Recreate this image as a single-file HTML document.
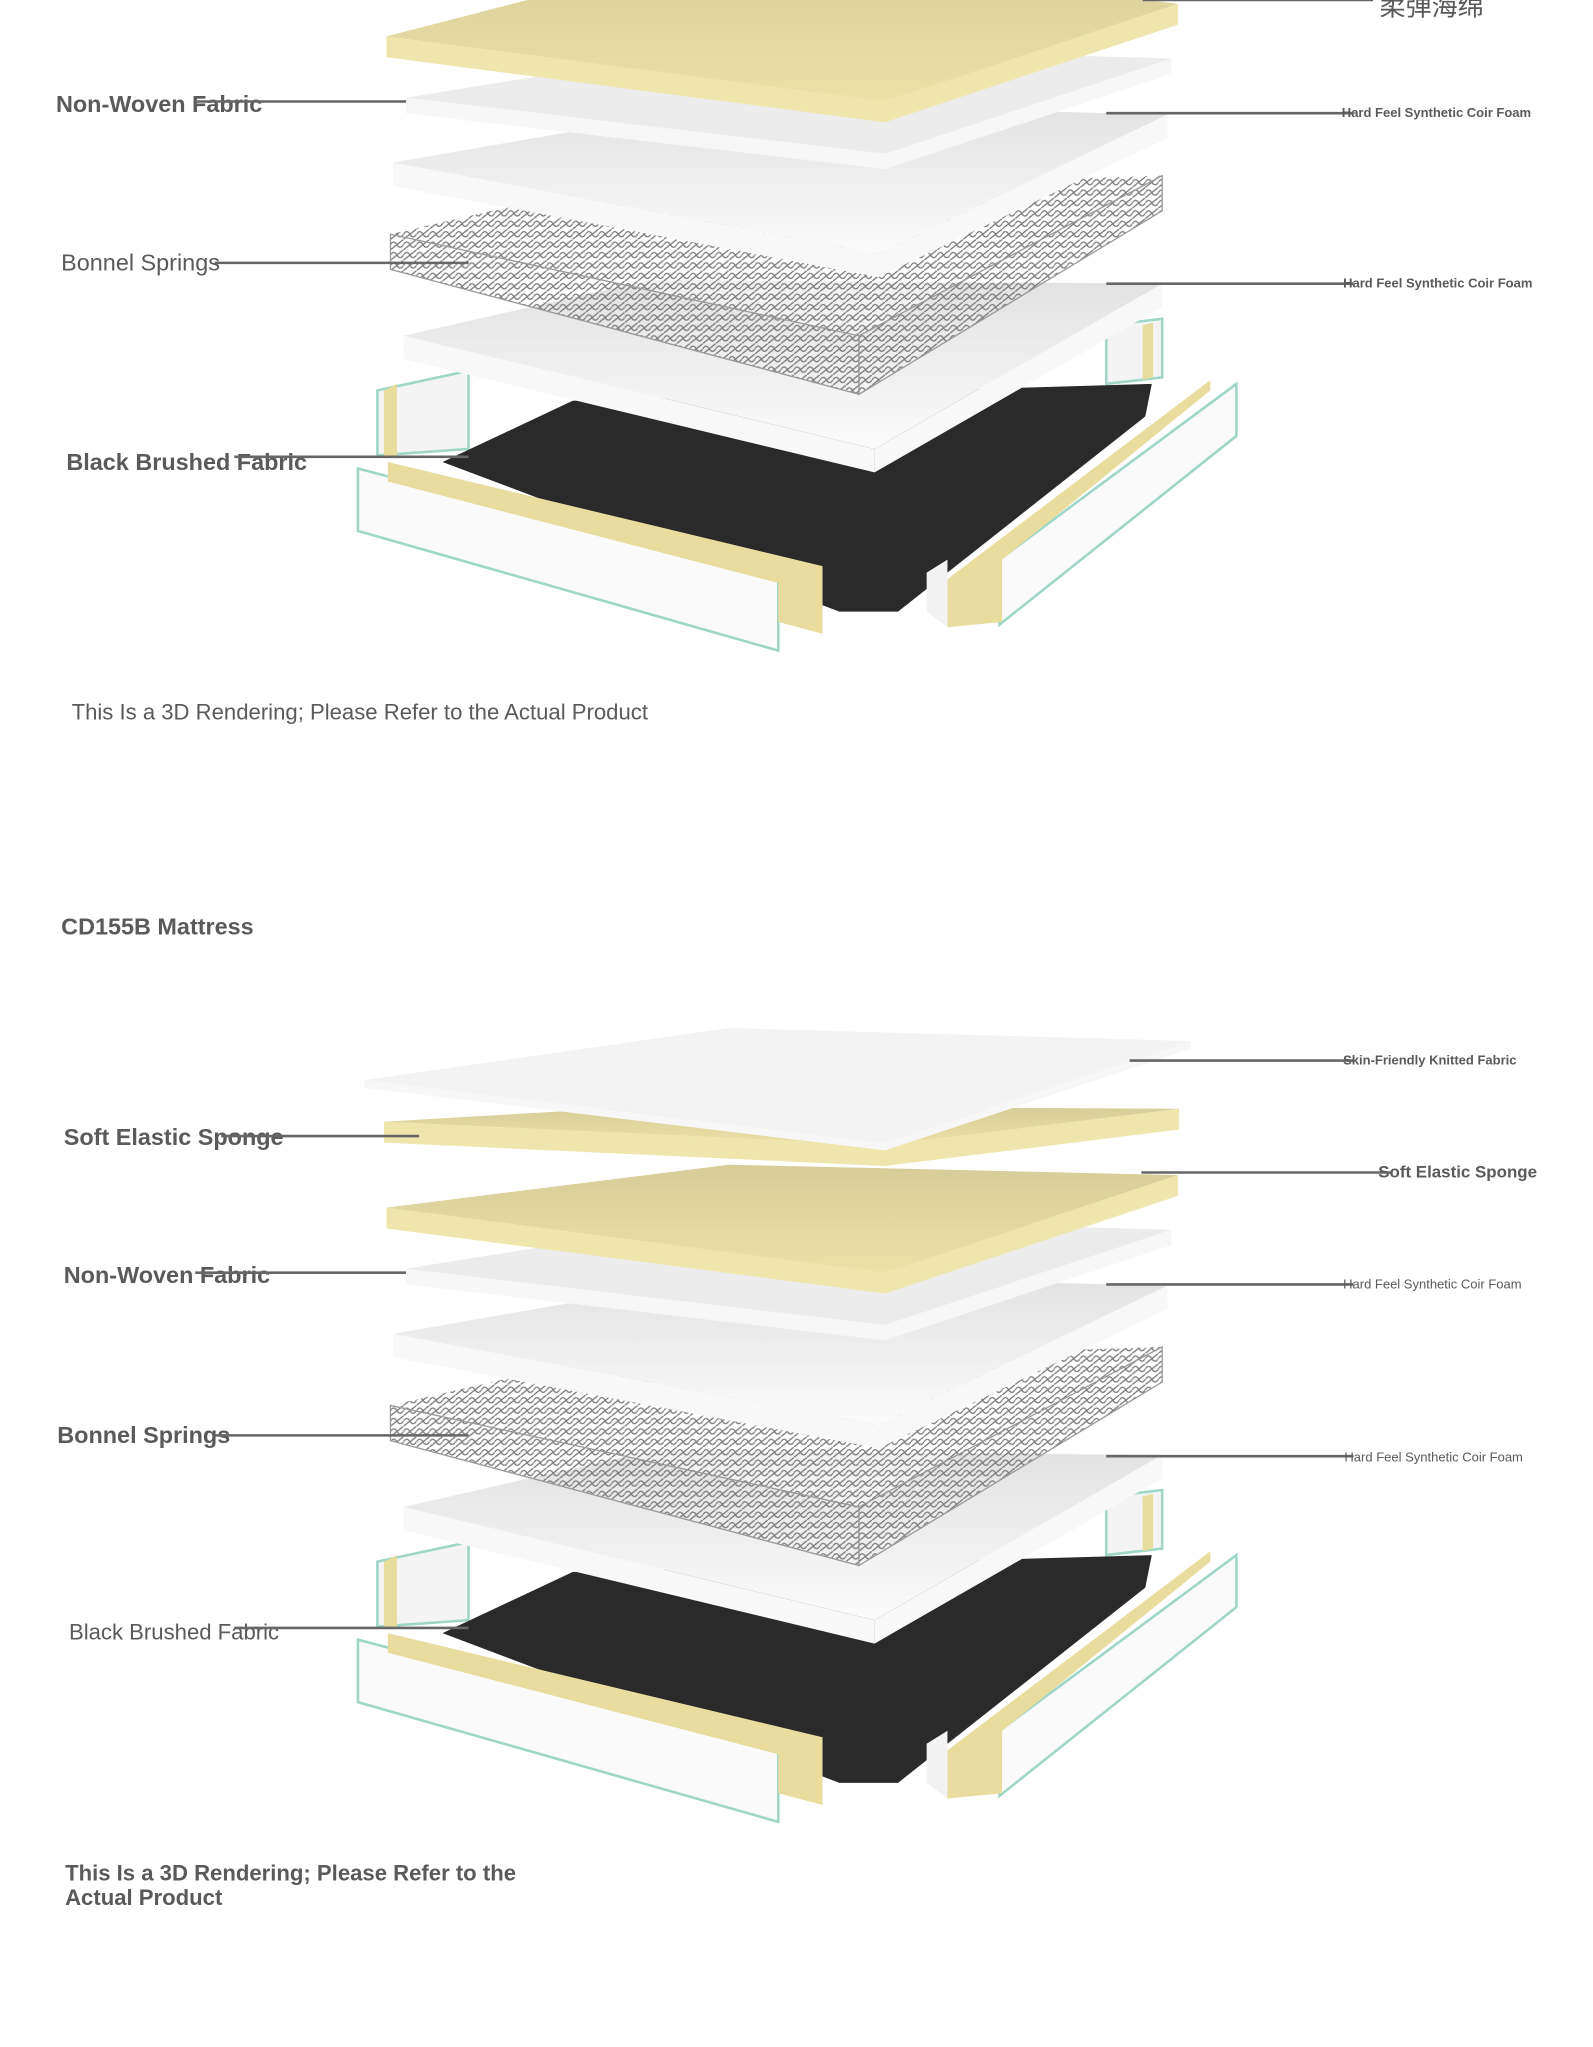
<!DOCTYPE html>
<html><head><meta charset="utf-8"><style>
html,body{margin:0;padding:0;background:#fff;}
svg{display:block;}
text{font-family:"Liberation Sans","Noto Sans CJK SC",sans-serif;fill:#5a5a5a;}
</style></head><body>
<svg id="s" width="1593" height="2047" viewBox="0 0 1224 1573" preserveAspectRatio="none" xmlns="http://www.w3.org/2000/svg">
<defs>
<linearGradient id="wg" x1="0" y1="0" x2="0" y2="1"><stop offset="0" stop-color="#e2e2e2"/><stop offset="1" stop-color="#fbfbfb"/></linearGradient>
<linearGradient id="yg" x1="0" y1="0" x2="0" y2="1"><stop offset="0" stop-color="#d6cc98"/><stop offset="1" stop-color="#ece2a8"/></linearGradient>
<pattern id="sp" width="10" height="8" patternUnits="userSpaceOnUse"><path d="M0 4 Q2.5 0 5 4 T10 4 M0 8 L10 0" stroke="#7a7a7a" stroke-width="1" fill="none"/></pattern>
</defs>
<g id="g"></g>
</svg>
<script>
var g=document.getElementById('g'),NS='http://www.w3.org/2000/svg';
function el(t,a,txt){var e=document.createElementNS(NS,t);for(var k in a)e.setAttribute(k,a[k]);if(txt)e.textContent=txt;g.appendChild(e);return e;}
function P(pts){return pts.map(function(p){return p[0]+','+p[1]}).join(' ');}
function slab(o,L,yl,bx,by,R,yr,C,yb,t,top,side){
 L=[L,yl+o];var B=[bx,by+o],Rr=[R,yr+o],Cc=[C,yb+o];
 el('polygon',{points:P([L,Cc,[Cc[0],Cc[1]+t],[L[0],L[1]+t]]),fill:side});
 el('polygon',{points:P([Cc,Rr,[Rr[0],Rr[1]+t],[Cc[0],Cc[1]+t]]),fill:side});
 el('polygon',{points:P([L,B,Rr,Cc]),fill:top});
}
function springs(o){
 var a=[300,180+o],b=[430,150+o],c=[893,135+o],d=[660,258+o],h=45;
 el('polygon',{points:P([a,b,c,d]),fill:'#fff',opacity:0.5});
 el('polygon',{points:P([a,b,c,d]),fill:'url(#sp)'});
 el('polygon',{points:P([a,d,[d[0],d[1]+h],[a[0],a[1]+h*0.6]]),fill:'url(#sp)',stroke:'#999','stroke-width':1});
 el('polygon',{points:P([d,c,[c[0],c[1]+h*0.6],[d[0],d[1]+h]]),fill:'url(#sp)',stroke:'#999','stroke-width':1});
}
function base(o){
 el('polygon',{points:P([[290,300+o],[360,285+o],[360,345+o],[290,350+o]]),fill:'#f4f4f4',stroke:'#9fd6c8','stroke-width':2});
 el('polygon',{points:P([[295,300+o],[305,295+o],[305,350+o],[295,350+o]]),fill:'#e6dc9c'});
 el('polygon',{points:P([[850,250+o],[893,245+o],[893,290+o],[850,295+o]]),fill:'#f4f4f4',stroke:'#9fd6c8','stroke-width':2});
 el('polygon',{points:P([[878,250+o],[886,248+o],[886,290+o],[878,292+o]]),fill:'#e6dc9c'});
 el('polygon',{points:P([[340,355+o],[440,308+o],[885,295+o],[880,320+o],[690,470+o],[645,470+o]]),fill:'#2a2a2a'});
 el('polygon',{points:P([[275,360+o],[598,445+o],[598,500+o],[275,408+o]]),fill:'#fafafa',stroke:'#9fd6c8','stroke-width':2});
 el('polygon',{points:P([[298,355+o],[632,435+o],[632,487+o],[598,478+o],[598,448+o],[298,370+o]]),fill:'#e8dd9f'});
 el('polygon',{points:P([[768,430+o],[950,295+o],[950,335+o],[768,480+o]]),fill:'#fafafa',stroke:'#9fd6c8','stroke-width':2});
 el('polygon',{points:P([[728,445+o],[930,292+o],[930,300+o],[770,430+o],[770,478+o],[728,482+o]]),fill:'#e8dd9f'});
 el('polygon',{points:P([[712,440+o],[728,430+o],[728,482+o],[712,470+o]]),fill:'#f2f2f2'});
}
function stack(o){
 base(o);
 slab(o,310,258,500,215,893,218,672,345,18,'url(#wg)','#f8f8f8');
 springs(o);
 slab(o,302,125,560,80,897,88,675,195,18,'url(#wg)','#f8f8f8');
 slab(o,312,75,560,35,900,45,680,118,12,'#ececec','#f7f7f7');
}
// top section
stack(0);
slab(0,297,28,560,-40,905,3,680,78,16,'url(#yg)','#efe6ad');
// bottom section
stack(900);
slab(900,297,28,560,-5,905,3,680,78,16,'url(#yg)','#efe6ad');
slab(900,295,-38,500,-50,906,-48,680,-20,16,'url(#yg)','#efe6ad');
slab(900,280,-70,560,-110,915,-100,680,-22,6,'#f3f3f3','#f7f7f7');
function line(x1,y1,x2,y2){el('line',{x1:x1,y1:y1,x2:x2,y2:y2,stroke:'#666','stroke-width':2});}
function T(x,y,s,w,txt,anchor){el('text',{x:x,y:y,'font-size':s,'font-weight':w,'text-anchor':anchor||'start'},txt);}
// top labels
line(878,0,1055,0);T(1060,12,20,'400','柔弹海绵');
T(43,86,18,'700','Non-Woven Fabric');line(150,78,312,78);
line(850,87,1040,87);T(1031,90,10,'700','Hard Feel Synthetic Coir Foam');
T(47,208,18,'400','Bonnel Springs');line(165,202,360,202);
line(850,218,1040,218);T(1032,221,10,'700','Hard Feel Synthetic Coir Foam');
T(51,361,18,'700','Black Brushed Fabric');line(180,351,360,351);
T(55,553,17,'400','This Is a 3D Rendering; Please Refer to the Actual Product');
T(47,718,18,'700','CD155B Mattress');
// bottom labels
line(868,815,1040,815);T(1032,818,10,'700','Skin-Friendly Knitted Fabric');
T(49,880,18,'700','Soft Elastic Sponge');line(170,873,322,873);
line(877,901,1070,901);T(1059,905,13,'700','Soft Elastic Sponge');
T(49,986,18,'700','Non-Woven Fabric');line(150,978,312,978);
line(850,987,1040,987);T(1032,990,10,'400','Hard Feel Synthetic Coir Foam');
T(44,1109,18,'700','Bonnel Springs');line(165,1103,360,1103);
line(850,1119,1040,1119);T(1033,1123,10,'400','Hard Feel Synthetic Coir Foam');
T(53,1260,17,'400','Black Brushed Fabric');line(180,1251,360,1251);
T(50,1445,17,'700','This Is a 3D Rendering; Please Refer to the');
T(50,1464,17,'700','Actual Product');
</script>
</body></html>
